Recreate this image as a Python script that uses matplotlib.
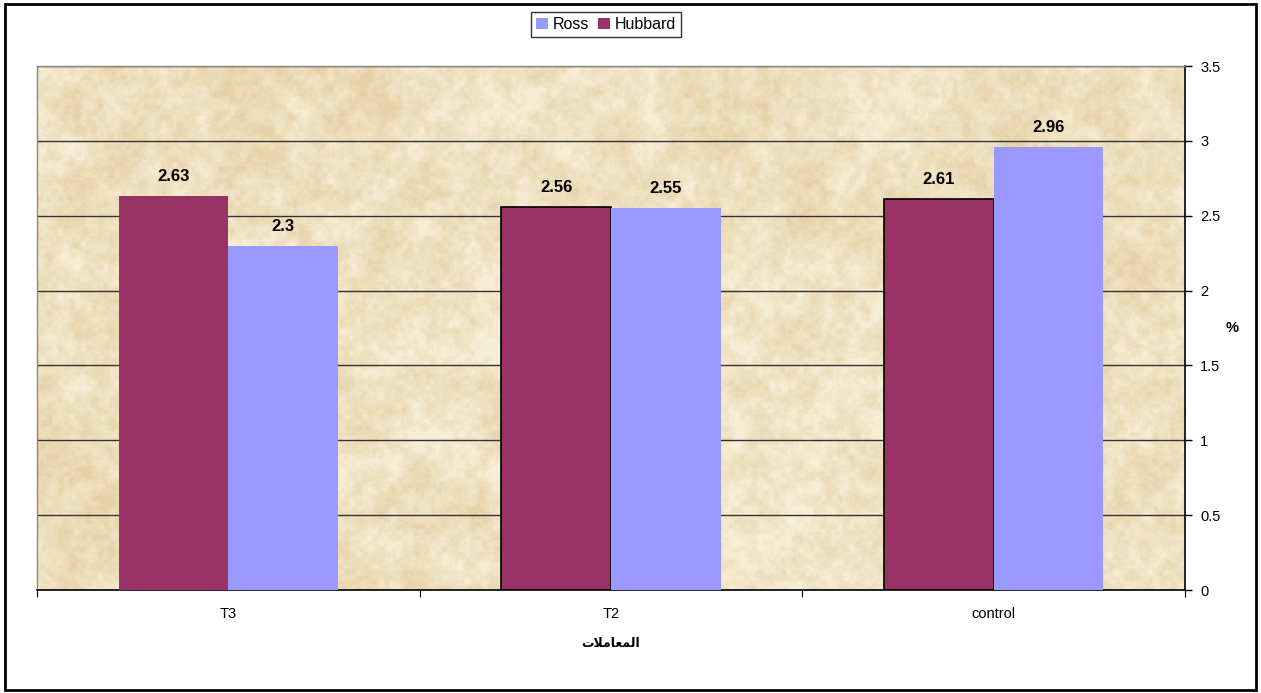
import numpy as np
import matplotlib.pyplot as plt
from matplotlib.patches import Rectangle

categories = ['T3', 'T2', 'control']
hubbard = [2.63, 2.56, 2.61]
ross = [2.3, 2.55, 2.96]
yticks = [0, 0.5, 1, 1.5, 2, 2.5, 3, 3.5]

HUBBARD_COLOR = '#993366'
ROSS_COLOR = '#9999FF'

plt.rcParams['font.family'] = ['Liberation Sans', 'DejaVu Sans']


def parchment(h, w, seed=7):
    # layered smooth noise for a sandy paper fill
    rng = np.random.default_rng(seed)
    field = np.zeros((h, w))
    for cells, amp in [(8, 0.5), (30, 0.6), (90, 0.6), (200, 0.5), (450, 0.35)]:
        gh, gw = max(2, int(cells * h / w)), cells
        g = rng.random((gh + 1, gw + 1))
        yi = np.linspace(0, gh, h)
        xi = np.linspace(0, gw, w)
        y0 = np.floor(yi).astype(int).clip(0, gh - 1)
        x0 = np.floor(xi).astype(int).clip(0, gw - 1)
        fy = (yi - y0)[:, None]
        fx = (xi - x0)[None, :]
        fy = fy * fy * (3 - 2 * fy)
        fx = fx * fx * (3 - 2 * fx)
        a = g[y0][:, x0]
        b = g[y0][:, x0 + 1]
        c = g[y0 + 1][:, x0]
        d = g[y0 + 1][:, x0 + 1]
        field += amp * ((a * (1 - fx) + b * fx) * (1 - fy) + (c * (1 - fx) + d * fx) * fy)
    field = (field - field.min()) / (field.max() - field.min())
    light = np.array([246, 238, 214]) / 255
    dark = np.array([230, 209, 166]) / 255
    t = np.clip((field - 0.2) * 1.5, 0, 1)[..., None]
    return light * (1 - t) + dark * t


fig = plt.figure(figsize=(12.61, 6.93), dpi=100)
fig.patches.append(Rectangle((0.004, 0.004), 0.992, 0.99, transform=fig.transFigure,
                             fill=False, edgecolor='black', linewidth=2))

ax = fig.add_axes([37 / 1261, 1 - 590 / 693, (1185 - 37) / 1261, (590 - 66) / 693])

x = np.arange(len(categories))
width = 0.287

ax.imshow(parchment(524, 1148), extent=(-0.5, 2.5, 0, 3.5), aspect='auto', zorder=0,
          interpolation='bilinear')

hub_edges = ['none', 'black', 'black']
bars_h = ax.bar(x - width / 2, hubbard, width, color=HUBBARD_COLOR, edgecolor=hub_edges,
                linewidth=1.2, label='Hubbard', zorder=3)
bars_r = ax.bar(x + width / 2, ross, width, color=ROSS_COLOR, linewidth=0,
                label='Ross', zorder=3)

for bars, vals in [(bars_h, hubbard), (bars_r, ross)]:
    for b, v in zip(bars, vals):
        ax.text(b.get_x() + b.get_width() / 2, v + 0.08, f'{v:g}', ha='center', va='bottom',
                fontsize=12, fontweight='bold', zorder=4)

ax.set_xlim(-0.5, 2.5)
ax.set_ylim(0, 3.5)
ax.yaxis.tick_right()
ax.set_yticks(yticks)
ax.set_yticklabels([f'{t:g}' for t in yticks], fontsize=10.5)
ax.tick_params(axis='y', direction='out', length=5, width=1, pad=6)
ax.grid(axis='y', color='#333333', linewidth=1, zorder=1)

ax.set_xticks(x)
ax.set_xticklabels(categories, fontsize=10.5)
ax.tick_params(axis='x', length=0, pad=12)
ax.set_xticks([-0.5, 0.5, 1.5, 2.5], minor=True)
ax.tick_params(axis='x', which='minor', direction='out', length=5, width=0.8)

for side in ['top', 'left']:
    ax.spines[side].set_color('#888888')
    ax.spines[side].set_linewidth(1)
ax.spines['bottom'].set_color('black')
ax.spines['right'].set_color('black')
ax.spines['right'].set_linewidth(1.2)
ax.spines['bottom'].set_linewidth(1.2)

# Arabic label written in visual order with presentation forms
ax.set_xlabel('\uFE95\uFEFC\uFEE3\uFE8E\uFECC\uFEE4\uFEDF\uFE8D', fontsize=9,
              fontweight='bold', family='DejaVu Sans', labelpad=12)
fig.text(1232 / 1261, 1 - 328 / 693, '%', fontsize=10.5, fontweight='bold',
         ha='center', va='center')

leg = fig.legend(handles=[bars_r, bars_h], labels=['Ross', 'Hubbard'], loc='center',
                 bbox_to_anchor=(606 / 1261, 1 - 24.5 / 693), ncol=2, fontsize=11.5,
                 frameon=True, fancybox=False, edgecolor='black', handlelength=0.75,
                 handleheight=0.75, handletextpad=0.3, columnspacing=0.6,
                 borderpad=0.3, borderaxespad=0)
leg.get_frame().set_linewidth(1)

fig.savefig('out.png', dpi=100)
